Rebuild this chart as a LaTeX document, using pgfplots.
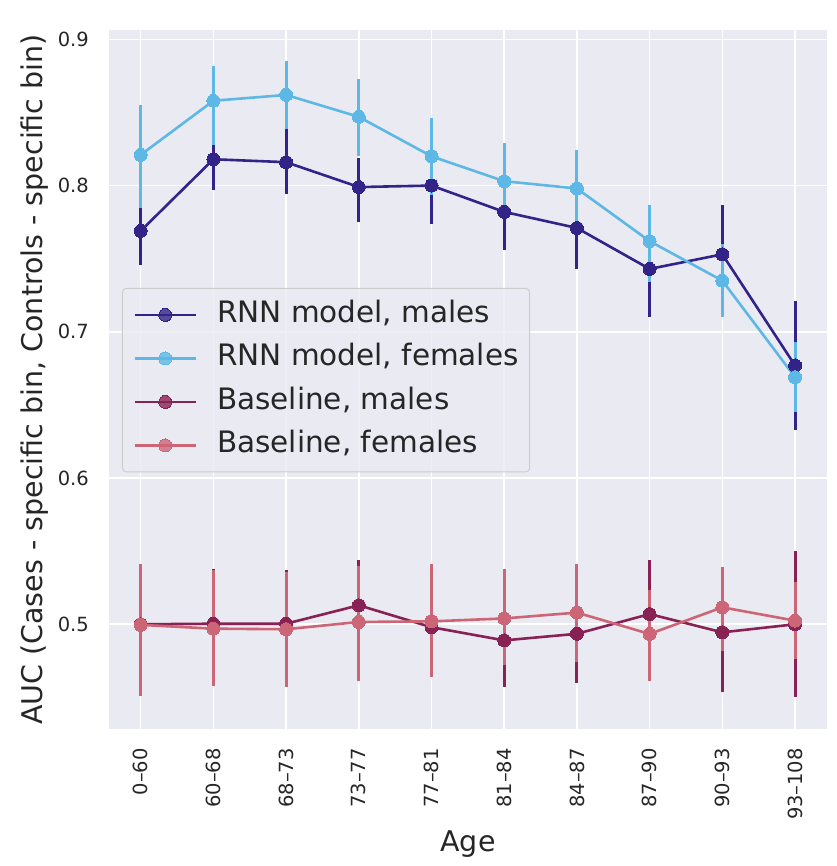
\documentclass[border=0pt]{standalone}
\usepackage{pgfplots}
\usepackage{pgfplotstable}
\pgfplotsset{compat=1.18}
\usepackage{fontspec}
\setmainfont{DejaVu Sans}

\definecolor{bgc}{HTML}{EAEAF2}
\definecolor{rnnm}{HTML}{332288}
\definecolor{rnnf}{HTML}{5DB8E6}
\definecolor{basem}{HTML}{882255}
\definecolor{basef}{HTML}{CC6677}
\definecolor{txt}{HTML}{262626}

\pgfplotstableread{
x y hi lo
0 0.769 0.792 0.746
1 0.818 0.839 0.797
2 0.816 0.8385 0.794
3 0.799 0.819 0.775
4 0.800 0.826 0.774
5 0.782 0.808 0.756
6 0.771 0.799 0.743
7 0.743 0.777 0.710
8 0.753 0.787 0.720
9 0.677 0.721 0.633
}\rnnm

\pgfplotstableread{
x y hi lo
0 0.821 0.855 0.785
1 0.858 0.882 0.828
2 0.862 0.885 0.839
3 0.847 0.873 0.820
4 0.820 0.846 0.7935
5 0.803 0.829 0.778
6 0.798 0.824 0.772
7 0.762 0.787 0.734
8 0.735 0.760 0.710
9 0.669 0.693 0.645
}\rnnf

\pgfplotstableread{
x y hi lo
0 0.500 0.540 0.455
1 0.5004 0.538 0.460
2 0.5004 0.537 0.460
3 0.513 0.544 0.482
4 0.498 0.535 0.465
5 0.489 0.518 0.457
6 0.4935 0.524 0.460
7 0.507 0.544 0.470
8 0.4945 0.529 0.454
9 0.500 0.550 0.450
}\basm

\pgfplotstableread{
x y hi lo
0 0.4996 0.541 0.451
1 0.497 0.537 0.458
2 0.4966 0.536 0.457
3 0.5016 0.540 0.461
4 0.502 0.541 0.464
5 0.504 0.538 0.472
6 0.508 0.541 0.474
7 0.4934 0.5235 0.461
8 0.5116 0.539 0.482
9 0.5025 0.529 0.476
}\basf

\pgfplotsset{
  ser/.style={
    color=#1, line width=2.6pt, mark=*, mark size=6.5pt,
    mark options={solid, fill=#1, draw=#1, line width=0pt},
    error bars/.cd, y dir=both, y explicit, error mark=none,
    error bar style={line width=3pt, color=#1},
  },
}

\begin{document}
\begin{tikzpicture}
\begin{axis}[
  scale only axis,
  width=718pt, height=699pt,
  xmin=-0.436, xmax=9.44,
  ymin=0.4284, ymax=0.9064,
  axis background/.style={fill=bgc},
  axis line style={draw=none},
  major tick length=0pt,
  grid=major,
  major grid style={white, line width=1.6pt},
  xtick={0,...,9},
  xticklabels={0–60,60–68,68–73,73–77,77–81,81–84,84–87,87–90,90–93,93–108},
  ytick={0.5,0.6,0.7,0.8,0.9},
  yticklabels={0.5,0.6,0.7,0.8,0.9},
  tick label style={font=\fontsize{19.5}{23}\selectfont, text=txt},
  xticklabel style={rotate=90, anchor=east, inner sep=0pt, xshift=-19pt},
  yticklabel style={anchor=east, inner sep=0pt, xshift=-20pt},
  xlabel={Age},
  ylabel={AUC (Cases - specific bin, Controls - specific bin)},
  label style={font=\fontsize{28.5}{34}\selectfont, text=txt},
  xlabel style={at={(axis description cs:0.5,0)}, anchor=base, inner sep=0pt, yshift=-122pt},
  ylabel style={at={(axis description cs:-0.0933,0.5)}, anchor=base, inner sep=0pt},
  legend cell align=left,
  legend style={
    at={(axis description cs:0.018,0.631)}, anchor=north west,
    fill=bgc, fill opacity=0.8, text opacity=1, draw=black!20, line width=1pt,
    rounded corners=4pt,
    inner xsep=11pt, inner ysep=12pt,
    row sep=14.5pt,
    font=\fontsize{29.5}{35}\selectfont,
    text=txt,
    nodes={inner sep=0pt, text height=22pt, text depth=7pt},
  },
  legend image code/.code={
    \draw[#1, mark repeat=2, mark phase=2] plot coordinates {(0pt,0pt) (30.5pt,0pt) (61pt,0pt)};
    \path (81pt,0pt);
  },
]
\addplot[ser=rnnm] table[x=x, y=y, y error plus expr=\thisrow{hi}-\thisrow{y}, y error minus expr=\thisrow{y}-\thisrow{lo}] {\rnnm};
\addlegendentry{RNN model, males}
\addplot[ser=rnnf] table[x=x, y=y, y error plus expr=\thisrow{hi}-\thisrow{y}, y error minus expr=\thisrow{y}-\thisrow{lo}] {\rnnf};
\addlegendentry{RNN model, females}
\addplot[ser=basem] table[x=x, y=y, y error plus expr=\thisrow{hi}-\thisrow{y}, y error minus expr=\thisrow{y}-\thisrow{lo}] {\basm};
\addlegendentry{Baseline, males}
\addplot[ser=basef] table[x=x, y=y, y error plus expr=\thisrow{hi}-\thisrow{y}, y error minus expr=\thisrow{y}-\thisrow{lo}] {\basf};
\addlegendentry{Baseline, females}
\end{axis}
\path[use as bounding box] (current axis.south west) ++(-109pt,-137pt) rectangle ++(836pt,866pt);
\end{tikzpicture}
\end{document}
